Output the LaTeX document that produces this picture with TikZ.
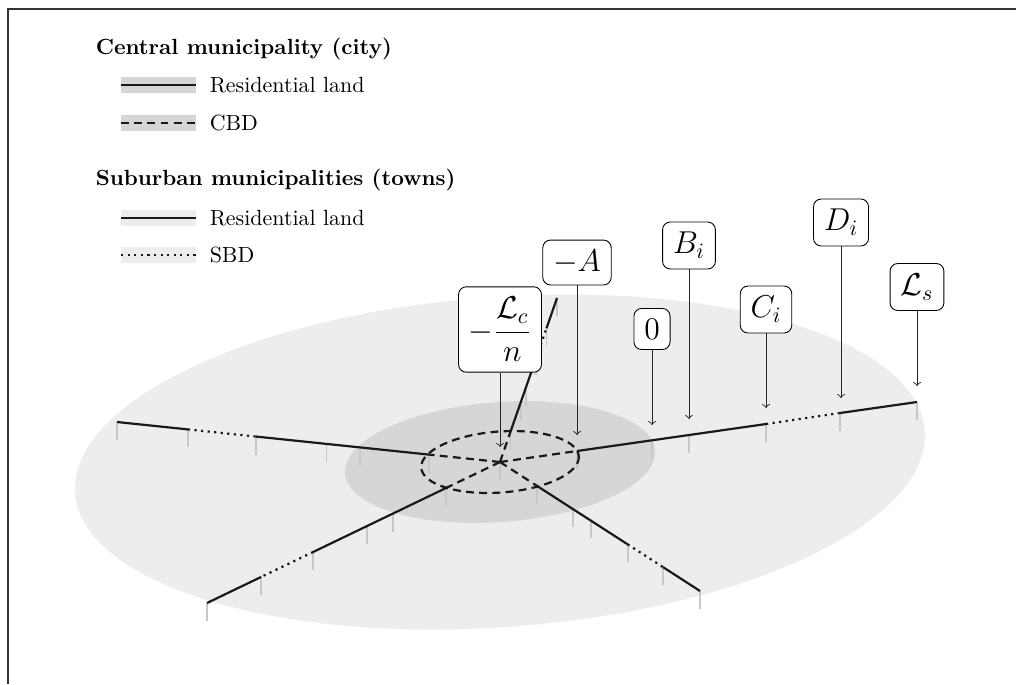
\documentclass[tikz,border=0pt]{standalone}
\usepackage{amsmath}
\begin{document}
\begin{tikzpicture}[x=0.016cm, y=-0.016cm,
  road/.style={line width=1pt, black!90},
  cbd/.style={road, dash pattern=on 3.6pt off 2.4pt},
  sbd/.style={road, dotted},
  tick/.style={line width=0.9pt, black!22},
  lbl/.style={draw, fill=white, rounded corners=3.5pt, font=\Large, inner sep=4.7pt},
  pointer/.style={->, black!85, thin}]
\useasboundingbox (0,0) rectangle (1016,684);
\draw[line width=0.8pt, black!80] (1016,9) -- (8,9) -- (8,684);
\node[anchor=west, font=\bfseries] (city) at (88,49) {Central municipality (city)};
\fill[black!16] (121,77) rectangle (196,93);
\draw[road] (121,85) -- (196,85);
\node[anchor=west] (cityres) at (202,85) {Residential land};
\fill[black!16] (121,115) rectangle (196,131);
\draw[cbd] (121,123) -- (196,123);
\node[anchor=west] (cbdtxt) at (202,123) {CBD};
\node[anchor=west, font=\bfseries] (towns) at (88,180) {Suburban municipalities (towns)};
\fill[black!7] (121,210) rectangle (196,226);
\draw[road] (121,218) -- (196,218);
\node[anchor=west] (townres) at (202,218) {Residential land};
\fill[black!7] (121,247) rectangle (196,263);
\draw[sbd] (121,255) -- (196,255);
\node[anchor=west] (sbdtxt) at (202,255) {SBD};
\fill[black!7] (500,462) ellipse [x radius=426, y radius=165, rotate=4.2];
\fill[black!16] (500,462) ellipse [x radius=155.5, y radius=60, rotate=4.2];
\draw[tick] (500,462) -- +(0,18);
\draw[tick] (577,451) -- +(0,18) (652,440) -- +(0,18) (689,435) -- +(0,18) (766,424) -- +(0,18) (840,413) -- +(0,18) (917,402) -- +(0,18);
\draw[tick] (510.5,431.7) -- +(0,18) (520.8,402.1) -- +(0,18) (525.8,387.7) -- +(0,18) (536.4,357.4) -- +(0,18) (546.5,328.3) -- +(0,18) (557,298) -- +(0,18);
\draw[tick] (429,454.6) -- +(0,18) (360.2,447.4) -- +(0,18) (326.5,443.9) -- +(0,18) (255.6,436.5) -- +(0,18) (187.9,429.4) -- +(0,18) (117,422) -- +(0,18);
\draw[tick] (445.8,488.1) -- +(0,18) (393.1,513.5) -- +(0,18) (367.3,525.9) -- +(0,18) (313.1,552) -- +(0,18) (261.2,576.9) -- +(0,18) (207,603) -- +(0,18);
\draw[tick] (537,485.9) -- +(0,18) (573,509.1) -- +(0,18) (590.6,520.4) -- +(0,18) (627.6,544.3) -- +(0,18) (663,567.1) -- +(0,18) (700,591) -- +(0,18);
\draw[cbd] (500,462) -- (577,451);
\draw[road] (577,451) -- (766,424) (840,413) -- (917,402);
\draw[sbd] (766,424) -- (840,413);
\draw[cbd] (500,462) -- (510.5,431.7);
\draw[road] (510.5,431.7) -- (536.4,357.4) (546.5,328.3) -- (557,298);
\draw[sbd] (536.4,357.4) -- (546.5,328.3);
\draw[cbd] (500,462) -- (429,454.6);
\draw[road] (429,454.6) -- (255.6,436.5) (187.9,429.4) -- (117,422);
\draw[sbd] (255.6,436.5) -- (187.9,429.4);
\draw[cbd] (500,462) -- (445.8,488.1);
\draw[road] (445.8,488.1) -- (313.1,552) (261.2,576.9) -- (207,603);
\draw[sbd] (313.1,552) -- (261.2,576.9);
\draw[cbd] (500,462) -- (537,485.9);
\draw[road] (537,485.9) -- (627.6,544.3) (663,567.1) -- (700,591);
\draw[sbd] (627.6,544.3) -- (663,567.1);
\draw[cbd] (500,462) ellipse [x radius=79, y radius=30.5, rotate=4.2];
\node[lbl] (Lc) at (500,329.5) {$-\dfrac{\mathcal{L}_c}{n}$};
\node[lbl] (mA) at (577,262.5) {$-A$};
\node[lbl] (zero) at (652,329) {$0$};
\node[lbl] (Bi) at (689,245.5) {$B_i$};
\node[lbl] (Ci) at (766,309.5) {$C_i$};
\node[lbl] (Di) at (841,222.5) {$D_i$};
\node[lbl] (Ls) at (917,287) {$\mathcal{L}_s$};
\coordinate (tLc) at (500,447);
\coordinate (tA) at (577,435);
\coordinate (t0) at (652,425);
\coordinate (tB) at (689,419);
\coordinate (tC) at (766,408);
\coordinate (tD) at (841,398);
\coordinate (tLs) at (917,386);
\draw[pointer] (Lc) -- (tLc);
\draw[pointer] (mA) -- (tA);
\draw[pointer] (zero) -- (t0);
\draw[pointer] (Bi) -- (tB);
\draw[pointer] (Ci) -- (tC);
\draw[pointer] (Di) -- (tD);
\draw[pointer] (Ls) -- (tLs);
\end{tikzpicture}
\end{document}
